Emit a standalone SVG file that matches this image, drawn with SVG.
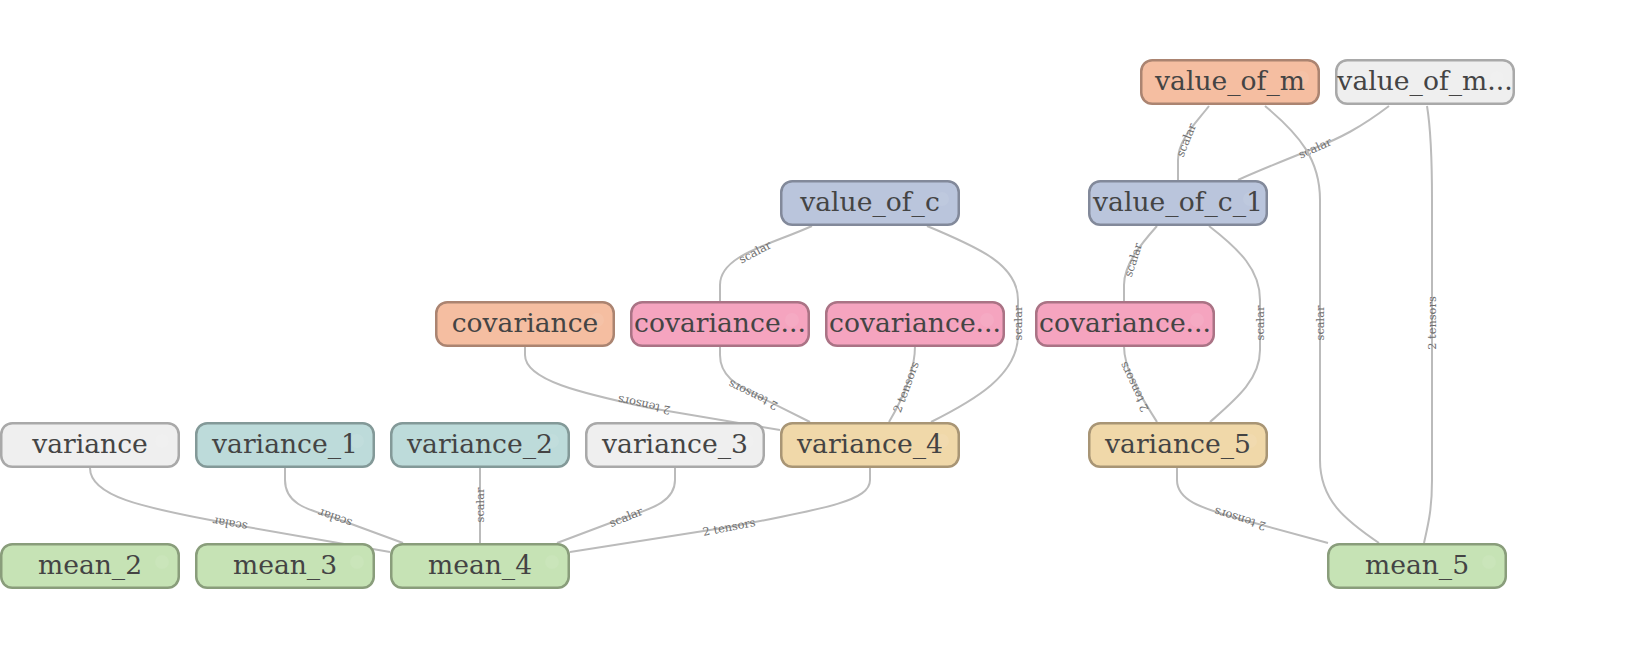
<svg xmlns="http://www.w3.org/2000/svg" width="1635" height="649" viewBox="0 0 1635 649">
<style>
.n rect{stroke-width:2.5}
.n text{font-family:"DejaVu Serif","Liberation Serif",serif;font-size:26.6px;fill:#444;text-anchor:middle}
.n circle{fill:#fff;opacity:.07}
.grey rect{fill:#efefef;stroke:#a9a9a9}
.teal rect{fill:#bddbda;stroke:#839998}
.green rect{fill:#c6e3b5;stroke:#899d7b}
.salmon rect{fill:#f5bea1;stroke:#ab8471}
.blue rect{fill:#bac5dc;stroke:#82899a}
.pink rect{fill:#f5a4bf;stroke:#aa7385}
.tan rect{fill:#f0d8a9;stroke:#a89575}
.e path{fill:none;stroke:#bbb;stroke-width:2}
.e text{font-family:"DejaVu Serif","Liberation Serif",serif;font-size:11.4px;fill:#6e6e6e;text-anchor:middle}
</style>
<rect width="1635" height="649" fill="#fff"/>
<g id="connectors" class="e">
<path d="M1209,106 C1195,124 1178,140 1178,160 L1178,180"/>
<text transform="translate(1186,140) rotate(-68)" dy=".35em">scalar</text>
<path d="M1389,106 C1360,128 1340,138 1315,148 C1290,158 1260,170 1238,180"/>
<text transform="translate(1315,148) rotate(-24)" dy=".35em">scalar</text>
<path d="M1265,106 C1300,135 1320,160 1320,200 L1320,460 C1320,500 1345,520 1379,543"/>
<text transform="translate(1320,323) rotate(-90)" dy=".35em">scalar</text>
<path d="M1427,106 C1431,130 1432,160 1432,200 L1432,480 C1432,510 1428,525 1424,543"/>
<text transform="translate(1432,323) rotate(-90)" dy=".35em">2 tensors</text>
<path d="M812,226 C770,245 720,255 720,285 L720,301"/>
<text transform="translate(755,252) rotate(-28)" dy=".35em">scalar</text>
<path d="M927,226 C980,248 1018,265 1018,300 L1018,335 C1018,375 975,400 931,422"/>
<text transform="translate(1018,323) rotate(-90)" dy=".35em">scalar</text>
<path d="M1157,226 C1140,245 1124,265 1124,285 L1124,301"/>
<text transform="translate(1133,260) rotate(-72)" dy=".35em">scalar</text>
<path d="M1209,226 C1240,250 1260,270 1260,300 L1260,350 C1260,380 1235,400 1210,422"/>
<text transform="translate(1260,323) rotate(-90)" dy=".35em">scalar</text>
<path d="M525,346 L525,355 C525,380 580,393 650,408 L780,430"/>
<text transform="translate(644,405) rotate(192)" dy=".35em">2 tensors</text>
<path d="M720,346 L720,355 C720,375 735,385 760,397 L810,422"/>
<text transform="translate(753,395) rotate(206)" dy=".35em">2 tensors</text>
<path d="M915,346 C915,370 905,395 889,422"/>
<text transform="translate(906,387) rotate(-70)" dy=".35em">2 tensors</text>
<path d="M1124,346 C1124,370 1140,395 1157,422"/>
<text transform="translate(1134,387) rotate(-115)" dy=".35em">2 tensors</text>
<path d="M90,468 C90,500 160,510 230,524 L390,552"/>
<text transform="translate(230,524) rotate(190)" dy=".35em">scalar</text>
<path d="M285,468 L285,480 C285,505 310,510 335,518 L403,543"/>
<text transform="translate(335,518) rotate(199)" dy=".35em">scalar</text>
<path d="M480,468 L480,543"/>
<text transform="translate(480,505) rotate(-90)" dy=".35em">scalar</text>
<path d="M675,468 L675,480 C675,500 655,508 626,517 L557,543"/>
<text transform="translate(626,517) rotate(-22)" dy=".35em">scalar</text>
<path d="M870,468 L870,480 C870,500 830,508 729,527 L570,552"/>
<text transform="translate(729,527) rotate(-11)" dy=".35em">2 tensors</text>
<path d="M1177,468 L1177,480 C1177,500 1200,508 1240,519 L1328,543"/>
<text transform="translate(1240,519) rotate(197)" dy=".35em">2 tensors</text>
</g>
<g id="value_of_m" class="n salmon" transform="translate(1140,59)"><rect x="1.25" y="1.25" width="177.5" height="43.5" rx="11"/><circle cx="162" cy="19" r="7"/><text x="90" y="31">value_of_m</text></g>
<g id="value_of_m_ellipsis" class="n grey" transform="translate(1335,59)"><rect x="1.25" y="1.25" width="177.5" height="43.5" rx="11"/><circle cx="162" cy="19" r="7"/><text x="90" y="31">value_of_m...</text></g>
<g id="value_of_c" class="n blue" transform="translate(780,180)"><rect x="1.25" y="1.25" width="177.5" height="43.5" rx="11"/><circle cx="162" cy="19" r="7"/><text x="90" y="31">value_of_c</text></g>
<g id="value_of_c_1" class="n blue" transform="translate(1088,180)"><rect x="1.25" y="1.25" width="177.5" height="43.5" rx="11"/><circle cx="162" cy="19" r="7"/><text x="90" y="31">value_of_c_1</text></g>
<g id="covariance" class="n salmon" transform="translate(435,301)"><rect x="1.25" y="1.25" width="177.5" height="43.5" rx="11"/><circle cx="162" cy="19" r="7"/><text x="90" y="31">covariance</text></g>
<g id="covariance_a" class="n pink" transform="translate(630,301)"><rect x="1.25" y="1.25" width="177.5" height="43.5" rx="11"/><circle cx="162" cy="19" r="7"/><text x="90" y="31">covariance...</text></g>
<g id="covariance_b" class="n pink" transform="translate(825,301)"><rect x="1.25" y="1.25" width="177.5" height="43.5" rx="11"/><circle cx="162" cy="19" r="7"/><text x="90" y="31">covariance...</text></g>
<g id="covariance_c" class="n pink" transform="translate(1035,301)"><rect x="1.25" y="1.25" width="177.5" height="43.5" rx="11"/><circle cx="162" cy="19" r="7"/><text x="90" y="31">covariance...</text></g>
<g id="variance" class="n grey" transform="translate(0,422)"><rect x="1.25" y="1.25" width="177.5" height="43.5" rx="11"/><circle cx="162" cy="19" r="7"/><text x="90" y="31">variance</text></g>
<g id="variance_1" class="n teal" transform="translate(195,422)"><rect x="1.25" y="1.25" width="177.5" height="43.5" rx="11"/><circle cx="162" cy="19" r="7"/><text x="90" y="31">variance_1</text></g>
<g id="variance_2" class="n teal" transform="translate(390,422)"><rect x="1.25" y="1.25" width="177.5" height="43.5" rx="11"/><circle cx="162" cy="19" r="7"/><text x="90" y="31">variance_2</text></g>
<g id="variance_3" class="n grey" transform="translate(585,422)"><rect x="1.25" y="1.25" width="177.5" height="43.5" rx="11"/><circle cx="162" cy="19" r="7"/><text x="90" y="31">variance_3</text></g>
<g id="variance_4" class="n tan" transform="translate(780,422)"><rect x="1.25" y="1.25" width="177.5" height="43.5" rx="11"/><circle cx="162" cy="19" r="7"/><text x="90" y="31">variance_4</text></g>
<g id="variance_5" class="n tan" transform="translate(1088,422)"><rect x="1.25" y="1.25" width="177.5" height="43.5" rx="11"/><circle cx="162" cy="19" r="7"/><text x="90" y="31">variance_5</text></g>
<g id="mean_2" class="n green" transform="translate(0,543)"><rect x="1.25" y="1.25" width="177.5" height="43.5" rx="11"/><circle cx="162" cy="19" r="7"/><text x="90" y="31">mean_2</text></g>
<g id="mean_3" class="n green" transform="translate(195,543)"><rect x="1.25" y="1.25" width="177.5" height="43.5" rx="11"/><circle cx="162" cy="19" r="7"/><text x="90" y="31">mean_3</text></g>
<g id="mean_4" class="n green" transform="translate(390,543)"><rect x="1.25" y="1.25" width="177.5" height="43.5" rx="11"/><circle cx="162" cy="19" r="7"/><text x="90" y="31">mean_4</text></g>
<g id="mean_5" class="n green" transform="translate(1327,543)"><rect x="1.25" y="1.25" width="177.5" height="43.5" rx="11"/><circle cx="162" cy="19" r="7"/><text x="90" y="31">mean_5</text></g>
</svg>
